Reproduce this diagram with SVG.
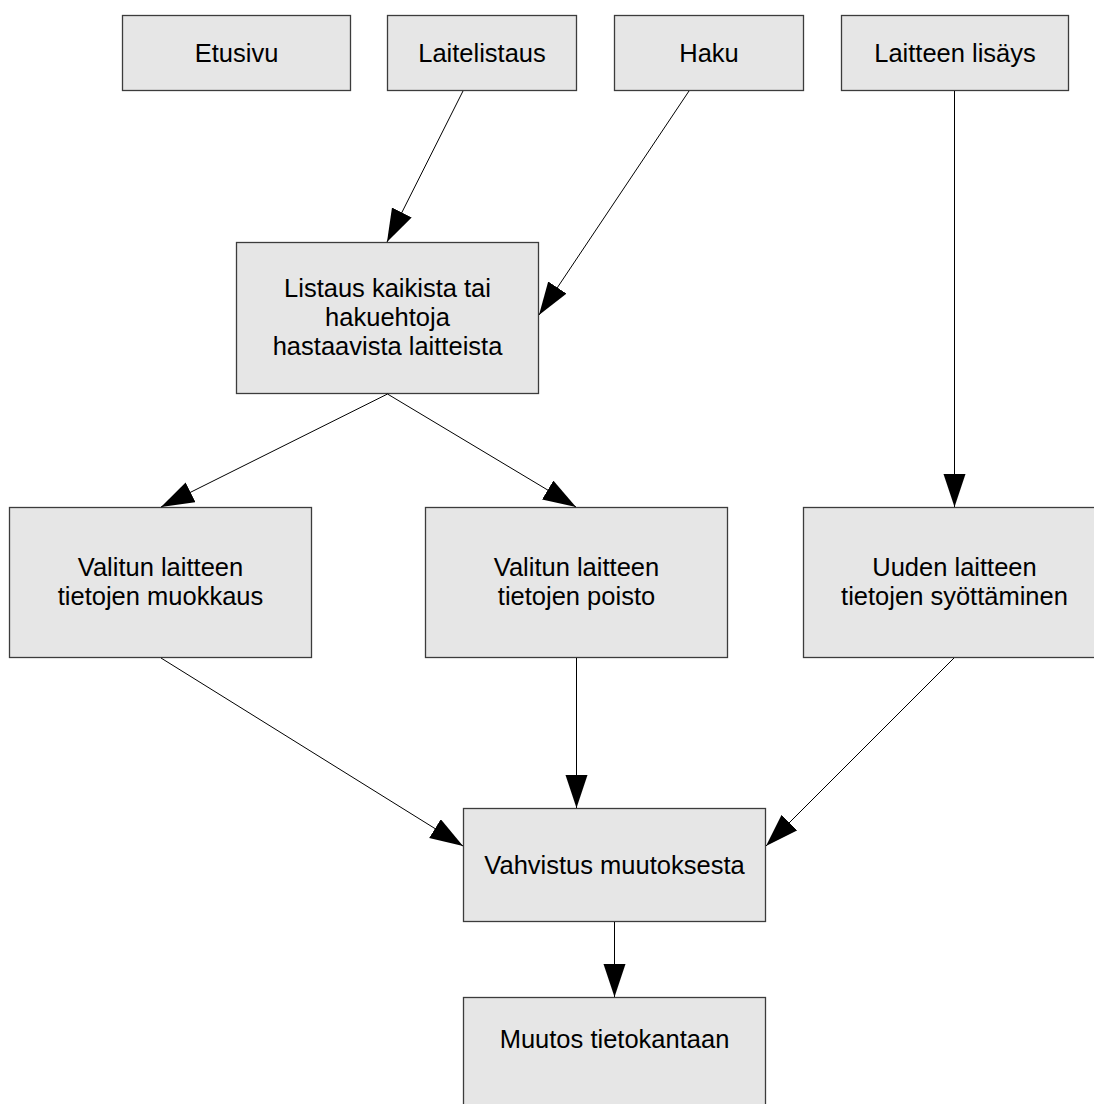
<svg xmlns="http://www.w3.org/2000/svg" width="1094" height="1104" viewBox="0 0 1094 1104">
<style>
.box{fill:#e6e6e6;stroke:#3c3c3c;stroke-width:1.3}
.lbl{font-family:"Liberation Sans",Arial,sans-serif;font-size:25.5px;fill:#000;text-anchor:middle}
.edge{stroke:#000;stroke-width:1;fill:none;marker-end:url(#ah)}
</style>
<defs>
<marker id="ah" markerUnits="userSpaceOnUse" markerWidth="34" markerHeight="23" refX="33" refY="11" orient="auto" viewBox="0 0 34 23">
<path d="M0,0 L33,11 L0,22 z" fill="#000"/>
</marker>
</defs>
<rect width="1094" height="1104" fill="#fff"/>
<g id="n-etusivu"><rect class="box" x="122.5" y="15.5" width="228" height="75"/><text class="lbl" x="236.5" y="62">Etusivu</text></g>
<g id="n-laitelistaus"><rect class="box" x="387.5" y="15.5" width="189" height="75"/><text class="lbl" x="482" y="62">Laitelistaus</text></g>
<g id="n-haku"><rect class="box" x="614.5" y="15.5" width="189" height="75"/><text class="lbl" x="709" y="62">Haku</text></g>
<g id="n-lisays"><rect class="box" x="841.5" y="15.5" width="227" height="75"/><text class="lbl" x="955" y="62">Laitteen lisäys</text></g>
<g id="n-listaus"><rect class="box" x="236.5" y="242.5" width="302" height="151"/><text class="lbl" x="387.5" y="297">Listaus kaikista tai</text><text class="lbl" x="387.5" y="326">hakuehtoja</text><text class="lbl" x="387.5" y="355">hastaavista laitteista</text></g>
<g id="n-muokkaus"><rect class="box" x="9.5" y="507.5" width="302" height="150"/><text class="lbl" x="160.5" y="576">Valitun laitteen</text><text class="lbl" x="160.5" y="605">tietojen muokkaus</text></g>
<g id="n-poisto"><rect class="box" x="425.5" y="507.5" width="302" height="150"/><text class="lbl" x="576.5" y="576">Valitun laitteen</text><text class="lbl" x="576.5" y="605">tietojen poisto</text></g>
<g id="n-uuden"><rect class="box" x="803.5" y="507.5" width="302" height="150"/><text class="lbl" x="954.5" y="576">Uuden laitteen</text><text class="lbl" x="954.5" y="605">tietojen syöttäminen</text></g>
<g id="n-vahvistus"><rect class="box" x="463.5" y="808.5" width="302" height="113"/><text class="lbl" x="614.5" y="874">Vahvistus muutoksesta</text></g>
<g id="n-muutos"><rect class="box" x="463.5" y="997.5" width="302" height="120"/><text class="lbl" x="614.5" y="1048">Muutos tietokantaan</text></g>
<g id="connectors">
<line class="edge" x1="463" y1="91" x2="387" y2="242"/>
<line class="edge" x1="689" y1="91" x2="539" y2="315"/>
<line class="edge" x1="954.5" y1="91" x2="954.5" y2="507"/>
<line class="edge" x1="387.5" y1="394" x2="161" y2="507"/>
<line class="edge" x1="387.5" y1="394" x2="576" y2="507"/>
<line class="edge" x1="161" y1="658" x2="463" y2="846"/>
<line class="edge" x1="576.5" y1="658" x2="576.5" y2="808"/>
<line class="edge" x1="954" y1="658" x2="766" y2="846"/>
<line class="edge" x1="614.5" y1="922" x2="614.5" y2="997"/>
</g>
</svg>
